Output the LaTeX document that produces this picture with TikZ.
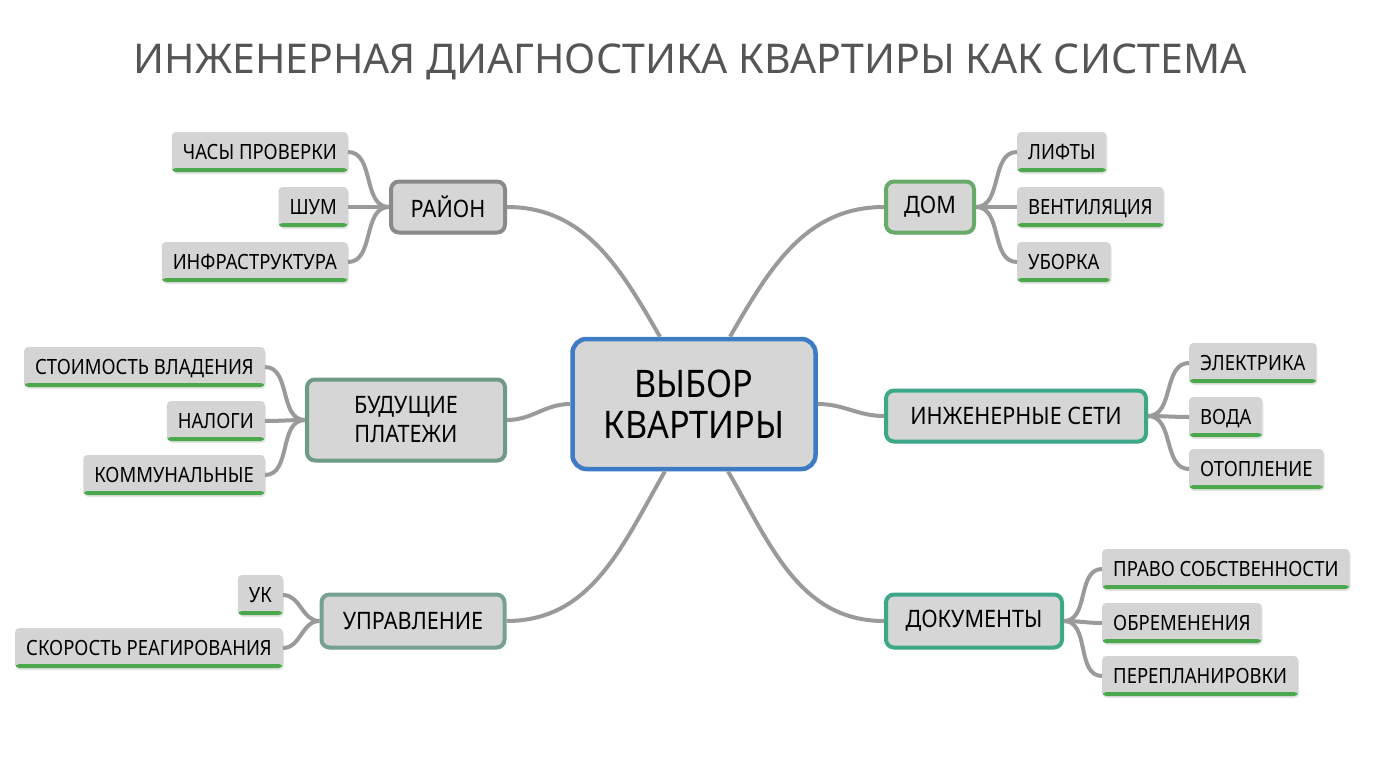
\documentclass[tikz,border=0pt]{standalone}
\usepackage{fontspec}
\setmainfont{Noto Sans}
\newfontfamily\boxfont{Noto Sans}[FakeStretch=0.9]
\newfontfamily\leaffont{Noto Sans}[FakeStretch=0.88]
\usetikzlibrary{shadows}

\definecolor{boxfill}{HTML}{D6D6D6}
\definecolor{leafgray}{HTML}{D4D4D4}
\definecolor{leafgreen}{HTML}{4CA84C}
\definecolor{linegray}{HTML}{9A9A9A}
\definecolor{titlegray}{HTML}{555555}
\definecolor{cblue}{HTML}{3D7CC4}
\definecolor{bgray}{HTML}{8A8A8A}
\definecolor{bgreen}{HTML}{68AA6A}
\definecolor{bsage}{HTML}{6E9A86}
\definecolor{bteal}{HTML}{3CA888}
\definecolor{bmoss}{HTML}{76A094}

\begin{document}
\begin{tikzpicture}[x=1pt, y=1pt,
	c/.style = {rectangle, rounded corners=14pt, draw=cblue, fill=boxfill, line width=4.5pt, align=center, font=\boxfont\fontsize{38}{41}\selectfont, minimum width=243, minimum height=130, drop shadow={opacity=0.2, shadow xshift=1pt, shadow yshift=-2pt}},
	b/.style = {rectangle, rounded corners=8pt, draw=#1, fill=boxfill, line width=4pt, align=center, font=\boxfont\fontsize{24}{29}\selectfont, minimum height=51, drop shadow={opacity=0.2, shadow xshift=1pt, shadow yshift=-2pt}},
	lf/.style = {rectangle, rounded corners=4pt, fill=leafgray, inner xsep=11pt, minimum height=40, text height=15pt, text depth=0pt, font=\leaffont\fontsize{21}{25}\selectfont, path picture={\fill[leafgreen] (path picture bounding box.south west) rectangle ([yshift=4pt]path picture bounding box.south east);}, drop shadow={opacity=0.2, shadow xshift=1pt, shadow yshift=-2pt}},
	r/.style = {draw=linegray, line width=4pt}
	]
	
	\useasboundingbox[fill=white] (0, 0) rectangle (1376, -768);
	
	% ===== ===== ===== ===== =====
	
	% Title
	\node[text=titlegray, font=\fontsize{41}{48}\selectfont]	(title)	at	(690, -62)	{ИНЖЕНЕРНАЯ ДИАГНОСТИКА КВАРТИРЫ КАК СИСТЕМА};
	
	% Nodes
	\node[c]	(c)	at	(694, -404)	{ВЫБОР\\КВАРТИРЫ};
	
	\node[b=bgray, minimum width=114]	(r)	at	(448, -207)	{РАЙОН};
	\node[b=bgreen, minimum width=88]	(d)	at	(930, -207)	{ДОМ};
	\node[b=bsage, minimum width=198, minimum height=81]	(p)	at	(406, -420)	{БУДУЩИЕ\\ПЛАТЕЖИ};
	\node[b=bteal, minimum width=260]	(s)	at	(1016, -416)	{ИНЖЕНЕРНЫЕ СЕТИ};
	\node[b=bmoss, minimum width=183, minimum height=53]	(u)	at	(413, -621)	{УПРАВЛЕНИЕ};
	\node[b=bteal, minimum width=176, minimum height=53]	(k)	at	(974, -621)	{ДОКУМЕНТЫ};
	
	% Lines
	\draw[r]	(r.east)	to[out=0, in=120]	([xshift=-34pt]c.north);
	\draw[r]	(d.west)	to[out=180, in=60]	([xshift=36pt]c.north);
	\draw[r]	(p.east)	to[out=0, in=180]	(c.west);
	\draw[r]	(c.east)	to[out=0, in=180]	(s.west);
	\draw[r]	(u.east)	to[out=0, in=-120]	([xshift=-29pt]c.south);
	\draw[r]	(k.west)	to[out=180, in=-60]	([xshift=34pt]c.south);
	
	% ===== ===== ===== ===== =====
	
	% Nodes
	\node[lf, anchor=east]	(r1)	at	(348, -152)	{ЧАСЫ ПРОВЕРКИ};
	\node[lf, anchor=east]	(r2)	at	(348, -207)	{ШУМ};
	\node[lf, anchor=east]	(r3)	at	(348, -262)	{ИНФРАСТРУКТУРА};
	
	\node[lf, anchor=west]	(d1)	at	(1017, -152)	{ЛИФТЫ};
	\node[lf, anchor=west]	(d2)	at	(1017, -207)	{ВЕНТИЛЯЦИЯ};
	\node[lf, anchor=west]	(d3)	at	(1017, -262)	{УБОРКА};
	
	\node[lf, anchor=east]	(p1)	at	(265, -367)	{СТОИМОСТЬ ВЛАДЕНИЯ};
	\node[lf, anchor=east]	(p2)	at	(265, -421)	{НАЛОГИ};
	\node[lf, anchor=east]	(p3)	at	(265, -475)	{КОММУНАЛЬНЫЕ};
	
	\node[lf, anchor=west]	(s1)	at	(1189, -363)	{ЭЛЕКТРИКА};
	\node[lf, anchor=west]	(s2)	at	(1189, -417)	{ВОДА};
	\node[lf, anchor=west]	(s3)	at	(1189, -469)	{ОТОПЛЕНИЕ};
	
	\node[lf, anchor=west]	(k1)	at	(1102, -569)	{ПРАВО СОБСТВЕННОСТИ};
	\node[lf, anchor=west]	(k2)	at	(1102, -623)	{ОБРЕМЕНЕНИЯ};
	\node[lf, anchor=west]	(k3)	at	(1102, -676)	{ПЕРЕПЛАНИРОВКИ};
	
	\node[lf, anchor=east]	(u1)	at	(283, -595)	{УК};
	\node[lf, anchor=east]	(u2)	at	(283, -648)	{СКОРОСТЬ РЕАГИРОВАНИЯ};
	
	% Lines
	\foreach \n in {r1, r2, r3}	\draw[r]	(\n.east)	to[out=0, in=180]	(r.west);
	\foreach \n in {d1, d2, d3}	\draw[r]	(d.east)	to[out=0, in=180]	(\n.west);
	\foreach \n in {p1, p2, p3}	\draw[r]	(\n.east)	to[out=0, in=180]	(p.west);
	\foreach \n in {s1, s2, s3}	\draw[r]	(s.east)	to[out=0, in=180]	(\n.west);
	\foreach \n in {k1, k2, k3}	\draw[r]	(k.east)	to[out=0, in=180]	(\n.west);
	\foreach \n in {u1, u2}	\draw[r]	(\n.east)	to[out=0, in=180]	(u.west);
	
\end{tikzpicture}
\end{document}
